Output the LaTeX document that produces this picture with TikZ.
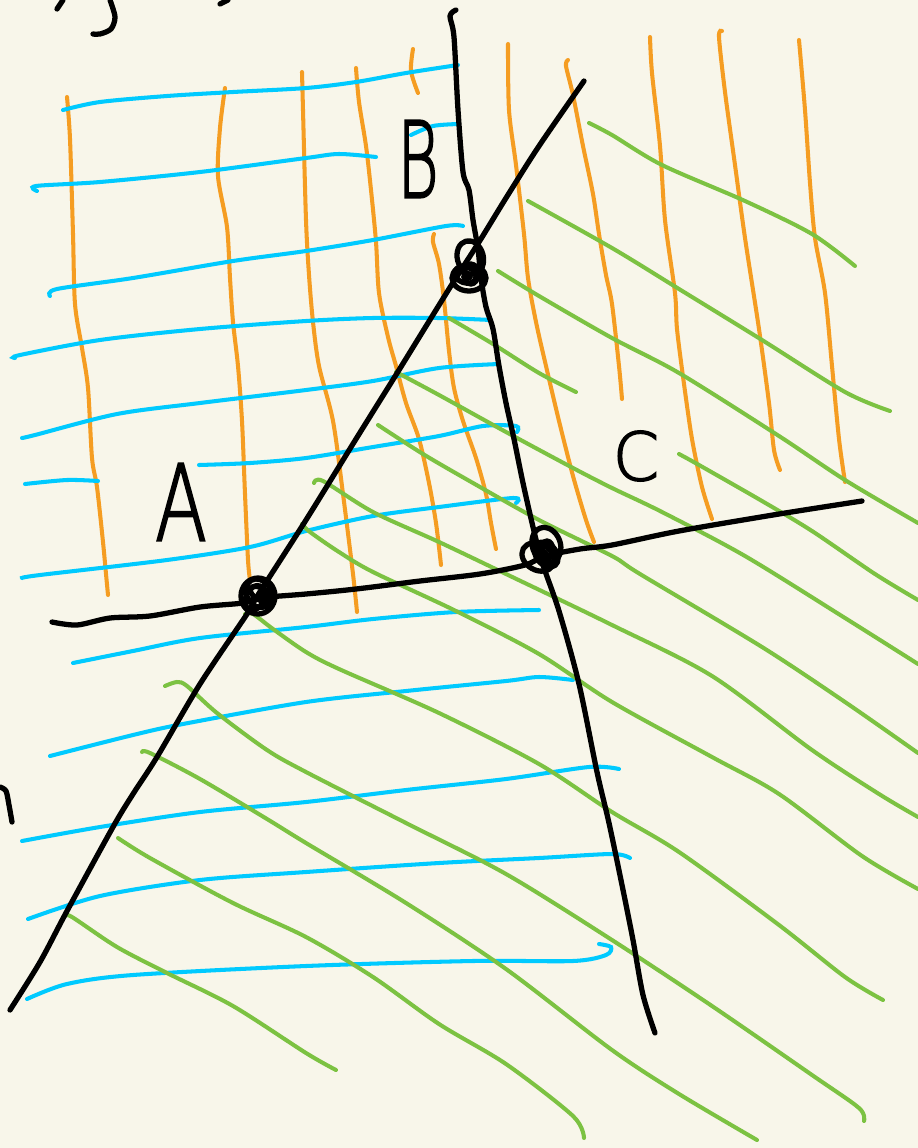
\documentclass[tikz,border=0pt]{standalone}
\usepackage{fontspec}
\newfontfamily\handfont[FakeBold=2.2]{DejaVu Sans ExtraLight}
\usepackage{tikz}
\definecolor{paper}{RGB}{248,246,234}
\definecolor{hatchA}{RGB}{0,202,255}
\definecolor{hatchB}{RGB}{245,157,34}
\definecolor{hatchC}{RGB}{124,194,66}

\begin{document}
\begin{tikzpicture}[x=0.01cm, y=-0.01cm,
  ink/.style={line width=1.5pt, black, line cap=round, line join=round},
  blueline/.style={line width=1.15pt, hatchA, line cap=round},
  orangeline/.style={line width=1.15pt, hatchB, line cap=round},
  greenline/.style={line width=1.15pt, hatchC, line cap=round},
  letter/.style={font=\handfont, inner sep=0pt}]
  \useasboundingbox (0,0) rectangle (918,1148);
  \fill[paper] (0,0) rectangle (918,1148);

  % orange hatching
  \draw[orangeline] plot[smooth] coordinates {(67,97) (70,139) (73,234) (75,304) (82,348) (88,388) (92,458) (97,487) (103,542) (106,574) (108,595)};
  \draw[orangeline] plot[smooth] coordinates {(225,88) (220,128) (218,176) (227,227) (230,278) (233,322) (238,366) (242,421) (245,494) (248,560) (250,580)};
  \draw[orangeline] plot[smooth] coordinates {(302,72) (303,110) (306,220) (309,275) (313,322) (319,366) (333,421) (343,494) (353,574) (357,612)};
  \draw[orangeline] plot[smooth] coordinates {(356,68) (359,102) (366,146) (371,190) (376,242) (379,293) (388,337) (396,366) (406,403) (419,439) (429,483) (436,523) (441,565)};
  \draw[orangeline] plot[smooth] coordinates {(413,49) (411,71) (418,93)};
  \draw[orangeline] plot[smooth] coordinates {(434,234) (433,242) (439,264) (444,300) (449,351) (454,388) (463,421) (476,458) (486,494) (491,523) (496,549)};
  \draw[orangeline] plot[smooth] coordinates {(508,44) (509,110) (516,165) (524,234) (528,278) (536,322) (546,366) (559,421) (573,476) (586,520) (594,542)};
  \draw[orangeline] plot[smooth] coordinates {(568,60) (566,66) (573,95) (583,146) (593,194) (599,234) (606,275) (612,304) (619,366) (622,399)};
  \draw[orangeline] plot[smooth] coordinates {(650,37) (652,73) (660,146) (665,220) (675,293) (677,329) (684,384) (692,439) (702,487) (712,519)};
  \draw[orangeline] plot[smooth] coordinates {(722,31) (719,37) (725,92) (735,165) (745,238) (759,329) (769,403) (774,450) (780,470)};
  \draw[orangeline] plot[smooth] coordinates {(799,40) (805,110) (810,183) (815,238) (825,293) (832,366) (839,439) (845,482)};

  % blue hatching
  \draw[blueline] plot[smooth] coordinates {(63,110) (100,102) (167,96) (233,92) (306,88) (356,82) (406,73) (458,65)};
  \draw[blueline] plot[smooth] coordinates {(411,135) (433,126) (459,124)};
  \draw[blueline] plot[smooth] coordinates {(37,191) (36,186) (100,182) (200,172) (306,158) (339,154) (376,157)};
  \draw[blueline] plot[smooth] coordinates {(50,296) (57,289) (133,278) (233,261) (306,251) (373,240) (446,226) (463,226)};
  \draw[blueline] plot[smooth] coordinates {(15,358) (20,355) (100,340) (200,329) (306,321) (373,318) (439,318) (491,320)};
  \draw[blueline] plot[smooth] coordinates {(22,438) (35,435) (117,414) (200,403) (306,390) (373,381) (439,368) (499,364)};
  \draw[blueline] plot[smooth] coordinates {(25,484) (67,480) (98,481)};
  \draw[blueline] plot[smooth] coordinates {(199,465) (250,463) (306,458) (373,447) (439,436) (483,426) (516,426) (517,432)};
  \draw[blueline] plot[smooth] coordinates {(22,578) (40,575) (167,560) (250,547) (306,531) (373,516) (439,507) (513,498) (516,503)};
  \draw[blueline] plot[smooth] coordinates {(73,663) (133,651) (200,638) (306,627) (373,619) (456,612) (539,610)};
  \draw[blueline] plot[smooth] coordinates {(50,756) (133,735) (183,724) (306,702) (406,691) (506,681) (539,677) (573,680)};
  \draw[blueline] plot[smooth] coordinates {(22,841) (100,827) (200,812) (306,802) (406,790) (506,779) (589,767) (619,769)};
  \draw[blueline] plot[smooth] coordinates {(28,919) (100,896) (200,880) (306,872) (439,863) (539,858) (612,854) (630,858)};
  \draw[blueline] plot[smooth] coordinates {(27,999) (67,984) (133,975) (306,966) (473,961) (573,961) (606,955) (611,947) (599,944)};

  % green hatching
  \draw[greenline] plot[smooth] coordinates {(589,123) (612,135) (662,165) (745,201) (812,234) (855,266)};
  \draw[greenline] plot[smooth] coordinates {(528,201) (612,248) (679,289) (762,340) (845,392) (890,411)};
  \draw[greenline] plot[smooth] coordinates {(498,271) (539,296) (612,338) (679,373) (779,436) (845,480) (918,523)};
  \draw[greenline] plot[smooth] coordinates {(449,318) (493,344) (539,373) (576,392)};
  \draw[greenline] plot[smooth] coordinates {(396,372) (439,395) (506,432) (573,468) (612,488) (662,512) (745,556) (845,618) (918,664)};
  \draw[greenline] plot[smooth] coordinates {(679,454) (699,465) (762,501) (812,531) (875,574) (918,600)};
  \draw[greenline] plot[smooth] coordinates {(378,425) (423,454) (473,483) (539,520) (612,556) (640,574) (762,647) (845,702) (918,753)};
  \draw[greenline] plot[smooth] coordinates {(314,483) (323,481) (373,512) (439,542) (506,574) (612,625) (712,676) (812,750) (879,794) (918,817)};
  \draw[greenline] plot[smooth] coordinates {(302,524) (310,532) (339,552) (373,572) (456,611) (539,654) (612,702) (712,757) (779,794) (862,856) (918,889)};
  \draw[greenline] plot[smooth] coordinates {(245,614) (253,614) (273,629) (306,652) (339,669) (439,713) (539,764) (612,812) (679,852) (779,925) (845,977) (883,1000)};
  \draw[greenline] plot[smooth] coordinates {(165,686) (177,682) (187,686) (217,713) (267,750) (306,772) (406,823) (506,874) (612,940) (712,1006) (812,1075) (859,1108) (864,1121)};
  \draw[greenline] plot[smooth] coordinates {(142,752) (150,753) (200,779) (267,819) (306,843) (406,903) (506,969) (612,1050) (679,1094) (757,1140)};
  \draw[greenline] plot[smooth] coordinates {(118,838) (150,858) (233,903) (306,937) (373,977) (439,1024) (506,1064) (573,1116) (584,1138)};
  \draw[greenline] plot[smooth] coordinates {(65,916) (72,917) (117,947) (167,973) (233,1006) (306,1053) (336,1070)};

  % the three lines
  \draw[ink] plot[smooth] coordinates {(456,10) (450,16) (454,37) (458,110) (463,172) (469,190) (473,220) (478,249) (481,278) (486,307) (493,329) (499,366) (506,403) (514,439) (523,483) (533,527) (542,562) (559,611) (579,684) (597,772) (609,823) (622,885) (633,940) (643,995) (655,1033)};
  \draw[ink] plot[smooth] coordinates {(584,81) (539,146) (506,198) (479,242) (449,289) (399,370) (356,439) (306,520) (258,595) (247,614) (200,684) (157,757) (133,794) (113,827) (67,911) (40,962) (10,1010)};
  \draw[ink] plot[smooth] coordinates {(52,622) (77,625) (110,618) (150,616) (200,607) (243,603) (258,598) (306,594) (356,589) (420,581) (480,574) (525,565) (545,556) (580,549) (612,545) (679,531) (779,514) (862,501)};

  % intersection points
  \coordinate (pA) at (258,596);
  \coordinate (pB) at (470,268);
  \coordinate (pC) at (545,553);
  \draw[ink] (pA) ellipse [x radius=0.17cm, y radius=0.18cm];
  \draw[ink, rotate around={30:(pA)}] ([shift={(2,-2)}]pA) ellipse [x radius=0.12cm, y radius=0.15cm];
  \draw[ink, rotate around={-25:(pA)}] ([shift={(-2,3)}]pA) ellipse [x radius=0.09cm, y radius=0.13cm];
  \draw[ink, rotate around={60:(pA)}] ([shift={(3,1)}]pA) ellipse [x radius=0.06cm, y radius=0.11cm];
  \fill[black] ([shift={(3,0)}]pA) ellipse [x radius=0.05cm, y radius=0.07cm];

  \draw[ink, rotate around={15:(pB)}] ([shift={(3,-10)}]pB) ellipse [x radius=0.13cm, y radius=0.17cm];
  \draw[ink] ([shift={(-1,10)}]pB) ellipse [x radius=0.17cm, y radius=0.13cm];
  \draw[ink, rotate around={-20:(pB)}] ([shift={(-2,8)}]pB) ellipse [x radius=0.11cm, y radius=0.08cm];
  \draw[ink] ([shift={(1,6)}]pB) ellipse [x radius=0.07cm, y radius=0.1cm];
  \fill[black] ([shift={(-3,9)}]pB) ellipse [x radius=0.06cm, y radius=0.04cm];

  \draw[ink, rotate around={20:(pC)}] ([shift={(4,-7)}]pC) ellipse [x radius=0.14cm, y radius=0.18cm];
  \draw[ink, rotate around={-30:(pC)}] ([shift={(-4,7)}]pC) ellipse [x radius=0.17cm, y radius=0.13cm];
  \draw[ink, rotate around={40:(pC)}] ([shift={(0,2)}]pC) ellipse [x radius=0.1cm, y radius=0.14cm];
  \draw[ink] ([shift={(2,-3)}]pC) ellipse [x radius=0.06cm, y radius=0.09cm];
  \fill[black] ([shift={(-1,3)}]pC) ellipse [x radius=0.05cm, y radius=0.07cm];

  % labels
  \node[letter, font=\handfont\fontsize{30}{30}\selectfont, xscale=0.72] (labelA) at (181,502) {A};
  \node[letter, font=\handfont\fontsize{30}{30}\selectfont, xscale=0.6] (labelB) at (418,159) {B};
  \node[letter, font=\handfont\fontsize{19}{19}\selectfont] (labelC) at (636,456) {C};

  % cut-off strokes at the edges
  \draw[ink] (57,9) -- (63,0);
  \draw[ink] plot[smooth] coordinates {(110,0) (115,17) (111,29) (100,34) (93,34)};
  \draw[ink] (220,4) -- (228,0);
  \draw[ink] plot[smooth] coordinates {(0,787) (6,791) (9,805) (12,822)};
\end{tikzpicture}
\end{document}
